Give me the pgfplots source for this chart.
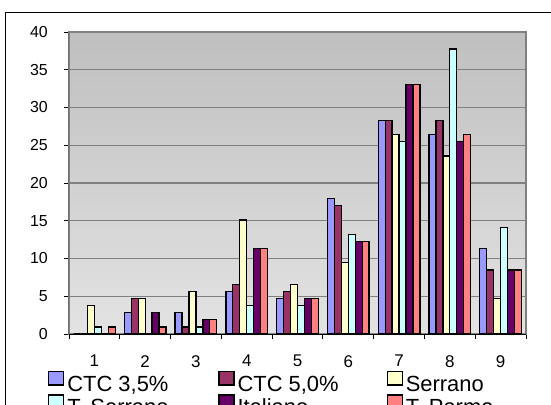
\documentclass[border=0pt]{standalone}
\usepackage{pgfplots}
\pgfplotsset{compat=1.18}
\usepackage{pgfplotstable}
\usepackage{fontspec}
\setmainfont{Liberation Sans}
\definecolor{cA}{HTML}{9999FF}
\definecolor{cB}{HTML}{993366}
\definecolor{cC}{HTML}{FFFFCC}
\definecolor{cD}{HTML}{CCFFFF}
\definecolor{cE}{HTML}{660066}
\definecolor{cF}{HTML}{FF8080}
\definecolor{gridg}{HTML}{808080}
\pgfplotstableread{
cat CTCa CTCb Serrano TSerrano Italiano TParma
1 0     0     3.77  0.94  0     0.94
2 2.83  4.72  4.72  0     2.83  0.94
3 2.83  0.94  5.66  0.94  1.89  1.89
4 5.66  6.60  15.09 3.77  11.32 11.32
5 4.72  5.66  6.60  3.77  4.72  4.72
6 17.92 16.98 9.43  13.21 12.26 12.26
7 28.30 28.30 26.42 25.47 33.02 33.02
8 26.42 28.30 23.58 37.74 25.47 26.42
9 11.32 8.49  4.72  14.15 8.49  8.49
}\datatable
\begin{document}
\begin{tikzpicture}
\begin{axis}[
  at={(0,0)}, anchor=south west,
  scale only axis, width=457bp, height=302bp,
  xmin=0.5, xmax=9.5, ymin=0, ymax=40,
  ybar=0pt, bar width=6.95bp,
  xtick={1,...,9},
  minor xtick={0.5,1.5,...,9.5},
  ytick={0,5,...,40},
  tick align=outside, tick pos=left,
  major tick length=5bp, minor tick length=5bp,
  major x tick style={draw=none},
  minor x tick style={black, line width=0.8bp},
  major y tick style={black, line width=0.8bp},
  ymajorgrids, grid style={gridg, line width=1.2bp},
  axis line style={gridg, line width=1.5bp},
  axis background/.style={top color=black!25, bottom color=black!11},
  /pgf/number format/assume math mode=true,
  yticklabel={\fontsize{16}{17}\selectfont\pgfmathprintnumber[assume math mode=true]{\tick}},
  xticklabel={\fontsize{17}{18}\selectfont\pgfmathprintnumber[assume math mode=true]{\tick}},
  yticklabel style={inner xsep=0pt, xshift=-16bp},
  xticklabel style={inner sep=0pt, yshift=-16bp},
  every axis plot/.append style={draw=black, line width=1.3bp},
  legend columns=3,
  legend cell align=left,
  legend style={at={(-0.046,-0.1215)}, anchor=north west, draw=none, fill=none,
    inner sep=0pt, row sep=0pt,
    font=\fontsize{22}{22}\selectfont,
    nodes={inner sep=0pt, text height=15.5bp, text depth=3.2bp},
    /tikz/every odd column/.append style={column sep=3bp}},
  legend image code/.code={\draw[#1, line width=1.2bp] (0bp,0bp) rectangle (15bp,13.5bp);},
]
\addplot[fill=cA] table[x=cat, y=CTCa] {\datatable};
\addplot[fill=cB] table[x=cat, y=CTCb] {\datatable};
\addplot[fill=cC] table[x=cat, y=Serrano] {\datatable};
\addplot[fill=cD] table[x=cat, y=TSerrano] {\datatable};
\addplot[fill=cE] table[x=cat, y=Italiano] {\datatable};
\addplot[fill=cF] table[x=cat, y=TParma] {\datatable};
\legend{\makebox[151bp][l]{CTC 3,5\%},\makebox[149bp][l]{CTC 5,0\%},Serrano,
        \makebox[151bp][l]{T. Serrano},\makebox[149bp][l]{Italiano},T. Parma}
\draw[black, line width=1bp] (rel axis cs:0,1) -- (rel axis cs:0,0) -- (rel axis cs:1,0);
\end{axis}
\draw[black, line width=1bp] (-63bp,-90bp) -- (-63bp,321bp) -- (500bp,321bp);
\pgfresetboundingbox
\path[use as bounding box] (-69bp,-71bp) rectangle (482bp,334bp);
\end{tikzpicture}
\end{document}
